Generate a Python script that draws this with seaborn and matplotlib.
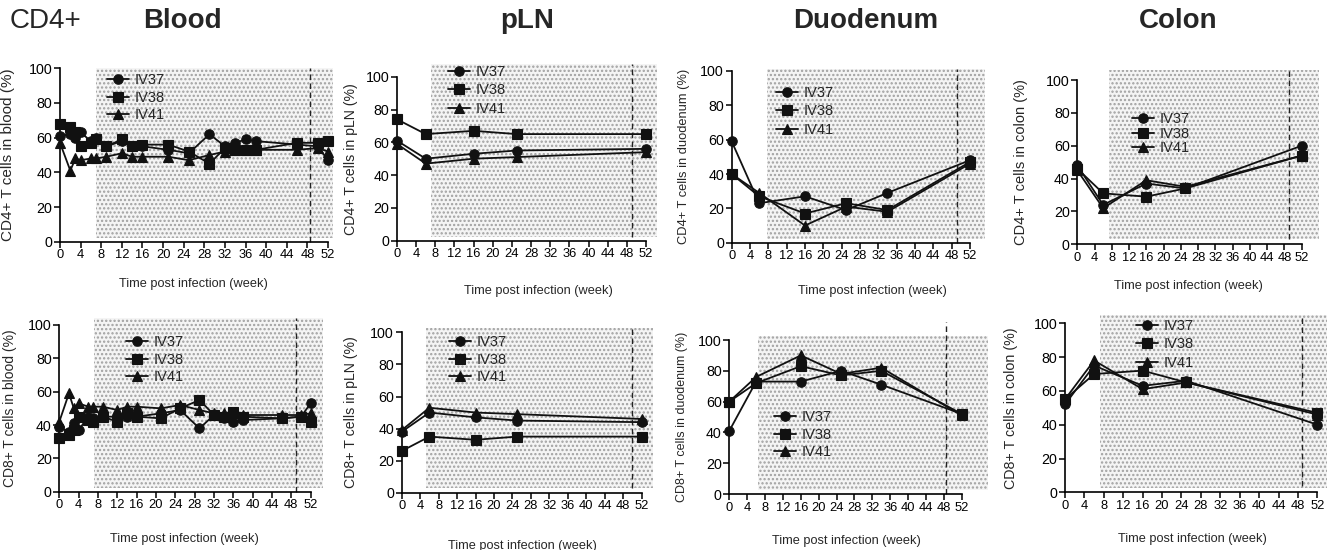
import matplotlib
matplotlib.use("Agg")
import matplotlib.pyplot as plt
from matplotlib.patches import Rectangle
import seaborn as sns

# ---------------- data ----------------
animals = ["IV37", "IV38", "IV41"]

blood_weeks = [0, 2, 3, 4, 6, 7, 9, 12, 14, 16, 21, 25, 29, 32, 34, 36, 38, 46, 50, 52]
tissue_weeks = [0, 6, 16, 25, 52]
duo_weeks = [0, 6, 16, 25, 34, 52]

cd4_blood_iv37 = [61, 62, 60, 63, 58, 60, 55, 58, 55, 55, 53, 51, 62, 55, 57, 59, 58, 56, 55, 47]
cd4_blood_iv38 = [68, 66, 63, 55, 57, 59, 55, 59, 55, 56, 56, 52, 45, 54, 53, 53, 53, 57, 57, 58]
cd4_blood_iv41 = [57, 41, 48, 47, 48, 48, 49, 51, 49, 49, 49, 47, 50, 52, 53, 53, 53, 53, 54, 52]

cd8_blood_iv37 = [39, 36, 41, 37, 45, 44, 45, 45, 45, 45, 47, 49, 38, 46, 44, 42, 43, 44, 45, 53]
cd8_blood_iv38 = [32, 34, 37, 45, 43, 42, 45, 42, 47, 45, 44, 50, 55, 46, 45, 48, 45, 44, 45, 42]
cd8_blood_iv41 = [42, 59, 50, 53, 51, 51, 51, 49, 51, 51, 50, 52, 49, 47, 47, 47, 46, 46, 46, 47]

cd4_pln_iv37 = [61, 50, 53, 55, 56]
cd4_pln_iv38 = [74, 65, 67, 65, 65]
cd4_pln_iv41 = [59, 47, 50, 51, 54]

cd8_pln_iv37 = [38, 50, 47, 45, 44]
cd8_pln_iv38 = [26, 35, 33, 35, 35]
cd8_pln_iv41 = [39, 53, 50, 49, 46]

cd4_duo_iv37 = [59, 23, 27, 19, 29, 48]
cd4_duo_iv38 = [40, 27, 17, 23, 19, 47]
cd4_duo_iv41 = [40, 29, 10, 21, 18, 46]

cd8_duo_iv37 = [41, 73, 73, 80, 71, 52]
cd8_duo_iv38 = [60, 72, 83, 77, 80, 52]
cd8_duo_iv41 = [60, 76, 90, 78, 82, 51]

cd4_colon_iv37 = [48, 24, 37, 34, 60]
cd4_colon_iv38 = [46, 31, 29, 34, 54]
cd4_colon_iv41 = [45, 22, 39, 35, 54]

cd8_colon_iv37 = [52, 75, 63, 66, 40]
cd8_colon_iv38 = [55, 70, 72, 65, 47]
cd8_colon_iv41 = [55, 78, 61, 65, 46]

col_titles = ["Blood", "pLN", "Duodenum", "Colon"]
ylabels = [
    "CD4+ T cells in blood (%)", "CD4+ T cells in pLN (%)",
    "CD4+ T cells in duodenum (%)", "CD4+ T cells in colon (%)",
    "CD8+ T cells in blood (%)", "CD8+ T cells in pLN (%)",
    "CD8+ T cells in duodenum (%)", "CD8+ T cells in colon (%)",
]
xlabel = "Time post infection (week)"
x_ticks = list(range(0, 53, 4))
y_ticks = list(range(0, 101, 20))

panel_data = [
    (blood_weeks, [cd4_blood_iv37, cd4_blood_iv38, cd4_blood_iv41]),
    (tissue_weeks, [cd4_pln_iv37, cd4_pln_iv38, cd4_pln_iv41]),
    (duo_weeks, [cd4_duo_iv37, cd4_duo_iv38, cd4_duo_iv41]),
    (tissue_weeks, [cd4_colon_iv37, cd4_colon_iv38, cd4_colon_iv41]),
    (blood_weeks, [cd8_blood_iv37, cd8_blood_iv38, cd8_blood_iv41]),
    (tissue_weeks, [cd8_pln_iv37, cd8_pln_iv38, cd8_pln_iv41]),
    (duo_weeks, [cd8_duo_iv37, cd8_duo_iv38, cd8_duo_iv41]),
    (tissue_weeks, [cd8_colon_iv37, cd8_colon_iv38, cd8_colon_iv41]),
]

# ---------------- layout (pixels) ----------------
W, H = 1332, 550
layout = [
    dict(x0=60, pxwk=5.154, y0=241.7, pxu=1.734, xmax=53.5, ymax=101,
         shade=(7, 53, 2, 100), dash=(48.6, 0, 100), leg=(118, 81, 0.25),
         ylab=(15, 11), xlab=(193, 278)),
    dict(x0=397, pxwk=4.79, y0=240.7, pxu=1.64, xmax=54.5, ymax=108.5,
         shade=(7.1, 54.3, 2.3, 108), dash=(49.1, 2.3, 108), leg=(459, 73, 0.3),
         ylab=(358, 10.2), xlab=(538, 285)),
    dict(x0=731.7, pxwk=4.58, y0=242.7, pxu=1.717, xmax=55.5, ymax=101.5,
         shade=(7.6, 55.3, 2, 101), dash=(49.2, 0, 101), leg=(787, 94, 0.3),
         ylab=(690, 9.3), xlab=(872, 285)),
    dict(x0=1077.3, pxwk=4.315, y0=244.3, pxu=1.643, xmax=56, ymax=106.5,
         shade=(7.4, 55.9, 3, 106), dash=(49.1, 3, 106), leg=(1143, 120, 0.05),
         ylab=(1028, 10.5), xlab=(1188, 280)),
    dict(x0=59.3, pxwk=4.834, y0=491.7, pxu=1.667, xmax=55, ymax=104.5,
         shade=(7.2, 54.6, 2, 104), dash=(49, 0, 104), leg=(137, 343, 0.25),
         ylab=(17, 10), xlab=(184, 533)),
    dict(x0=401.7, pxwk=4.615, y0=492.7, pxu=1.603, xmax=54.7, ymax=103,
         shade=(5.3, 54.5, 2.7, 102.5), dash=(49.8, 2.7, 102.5), leg=(460, 343, 0.25),
         ylab=(358, 10.2), xlab=(522, 540)),
    dict(x0=729.3, pxwk=4.47, y0=494, pxu=1.54, xmax=58, ymax=112,
         shade=(6.5, 57.9, 2.6, 102.6), dash=(48.5, 0, 111.9), leg=(785, 418, 0.25),
         ylab=(688, 9), xlab=(846, 535)),
    dict(x0=1065, pxwk=4.853, y0=492.3, pxu=1.69, xmax=54.2, ymax=105.5,
         shade=(7.2, 53.9, 2.4, 105), dash=(48.8, 4, 105), leg=(1147, 327, 0.3),
         ylab=(1018, 10.3), xlab=(1192, 533)),
]
markers = ["o", "s", "^"]
msizes = [6.8, 6.5, 7.2]

sns.set_theme(style="ticks")
plt.rcParams["font.family"] = ["Liberation Sans", "DejaVu Sans"]
plt.rcParams["hatch.linewidth"] = 1.1

fig = plt.figure(figsize=(W / 100, H / 100), dpi=100)
fig.patch.set_facecolor("white")

for i, ((weeks, series), L) in enumerate(zip(panel_data, layout)):
    left = L["x0"] / W
    bottom = 1 - L["y0"] / H
    ax = fig.add_axes([left, bottom, L["xmax"] * L["pxwk"] / W, L["ymax"] * L["pxu"] / H])
    ax.set_facecolor("none")
    ax.set_xlim(0, L["xmax"])
    ax.set_ylim(0, L["ymax"])

    sx0, sx1, sy0, sy1 = L["shade"]
    ax.add_patch(Rectangle((sx0, sy0), sx1 - sx0, sy1 - sy0, facecolor="#f4f4f4",
                           edgecolor="#a0a0a0", hatch="....", linewidth=0, zorder=0))
    dx, dy0, dy1 = L["dash"]
    ax.plot([dx, dx], [dy0, dy1], color="#222222", lw=1.0, ls=(0, (4, 2.5)),
            zorder=1, clip_on=False)

    for name, vals, m, ms in zip(animals, series, markers, msizes):
        sns.lineplot(x=weeks, y=vals, ax=ax, color="#111111", marker=m,
                     markersize=ms, markeredgecolor="#111111", markeredgewidth=0.8,
                     linewidth=1.3, label=name, clip_on=False, zorder=3)

    for s in ["top", "right"]:
        ax.spines[s].set_visible(False)
    ax.spines["left"].set_bounds(0, 100)
    ax.spines["bottom"].set_bounds(0, 52)
    for s in ["left", "bottom"]:
        ax.spines[s].set_color("black")
        ax.spines[s].set_linewidth(1.2)
    ax.set_xticks(x_ticks)
    ax.set_yticks(y_ticks)
    ax.tick_params(direction="out", length=4, width=1.1, pad=1.5,
                   color="black", labelcolor="black")
    ax.tick_params(axis="x", labelsize=9.3)
    ax.tick_params(axis="y", labelsize=10.3)

    ax.set_xlabel(xlabel, fontsize=9.2)
    ax.xaxis.set_label_coords(L["xlab"][0] / W, 1 - L["xlab"][1] / H, transform=fig.transFigure)
    ax.set_ylabel(ylabels[i], fontsize=L["ylab"][1])
    ymid = L["y0"] - 50 * L["pxu"]
    ax.yaxis.set_label_coords(L["ylab"][0] / W, 1 - ymid / H, transform=fig.transFigure)

    mx, my, lsp = L["leg"]
    fs = 10.5
    hl = 1.5
    hl_px = hl * fs * 100 / 72
    ax.legend(loc="upper left", bbox_to_anchor=((mx - hl_px / 2) / W, 1 - (my - 8) / H),
              bbox_transform=fig.transFigure, frameon=False, fontsize=fs,
              handlelength=hl, handletextpad=0.4, labelspacing=lsp,
              borderpad=0, borderaxespad=0)

fig.text(10 / W, 1 - 21 / H, "CD4+", fontsize=20, ha="left", va="center")
title_x = [182, 527, 866, 1178]
for t, x in zip(col_titles, title_x):
    fig.text(x / W, 1 - 21 / H, t, fontsize=20, fontweight="bold", ha="center", va="center")

fig.savefig("out.png", dpi=100, facecolor="white")
